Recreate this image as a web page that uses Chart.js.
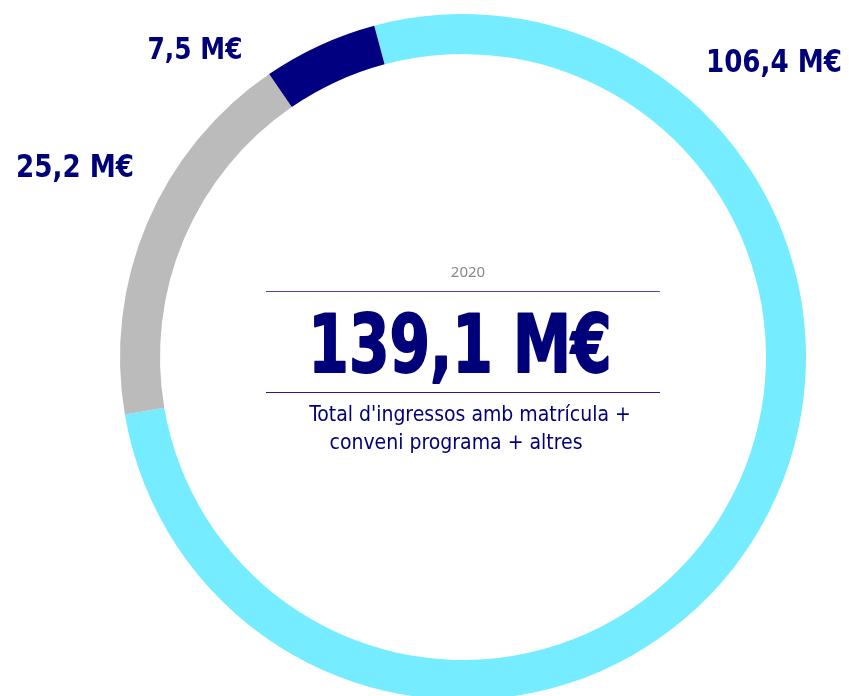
<!DOCTYPE html>
<html>
<head>
<meta charset="utf-8">
<script src="https://cdn.jsdelivr.net/npm/chart.js@4"></script>
<style>
  html, body { margin: 0; padding: 0; background: #fff; overflow: hidden; }
  #wrap { width: 849px; height: 720px; }
</style>
</head>
<body>
<div id="wrap"><canvas id="chart" width="849" height="720"></canvas></div>
<script>
// ingressos 2020, M€
var segmentValues = [106.4, 25.2, 7.5];
var segmentLabels = ['106,4 M€', '25,2 M€', '7,5 M€'];
var totalLabel = '139,1 M€';
var yearLabel = '2020';
var captionLines = ["Total d'ingressos amb matrícula +", 'conveni programa + altres'];

var colors = ['#75ecff', '#bbbbbb', '#000080'];
var navy = '#000078';
var condensed = "'Liberation Sans Narrow', 'DejaVu Sans Condensed', 'Roboto Condensed', sans-serif";
var regular = "'Noto Sans', 'Open Sans', sans-serif";

// where each value label sits (same order as segmentValues)
var labelPos = [[774, 60], [75, 165], [195, 47]];
var labelWidth = [136, 118, 95];

// shrink/grow the font so the text spans the given width
function fitFont(ctx, text, weight, family, width) {
  ctx.font = weight + ' 100px ' + family;
  var size = 100 * width / ctx.measureText(text).width;
  ctx.font = weight + ' ' + size.toFixed(1) + 'px ' + family;
}

// bold text, stretched vertically and optionally thickened
function heavyText(ctx, text, x, y, width, stretch, stroke) {
  ctx.save();
  ctx.translate(x, y);
  ctx.scale(1, stretch);
  fitFont(ctx, text, 'bold', condensed, width - stroke);
  if (stroke > 0) {
    ctx.lineWidth = stroke;
    ctx.lineJoin = 'round';
    ctx.strokeStyle = navy;
    ctx.strokeText(text, 0, 0);
  }
  ctx.fillText(text, 0, 0);
  ctx.restore();
}

var centerText = {
  id: 'centerText',
  afterDraw: function (chart) {
    var ctx = chart.ctx;
    var arc = chart.getDatasetMeta(0).data[0];
    var cx = arc.x;
    ctx.save();
    ctx.textAlign = 'center';
    ctx.textBaseline = 'alphabetic';

    ctx.fillStyle = '#888888';
    ctx.font = '15px ' + regular;
    ctx.fillText(yearLabel, cx + 5, 277);

    ctx.strokeStyle = '#4b4b9c';
    ctx.lineWidth = 1;
    ctx.beginPath();
    ctx.moveTo(266, 291.5); ctx.lineTo(660, 291.5);
    ctx.stroke();
    ctx.strokeStyle = '#202088';
    ctx.beginPath();
    ctx.moveTo(266, 392.5); ctx.lineTo(660, 392.5);
    ctx.stroke();

    ctx.fillStyle = navy;
    heavyText(ctx, totalLabel, 460, 372, 305, 1.24, 1.5);

    fitFont(ctx, captionLines[0], 'normal', condensed, 321);
    ctx.fillText(captionLines[0], 470, 421);
    ctx.fillText(captionLines[1], 456, 449);

    segmentLabels.forEach(function (t, i) {
      heavyText(ctx, t, labelPos[i][0], labelPos[i][1] + 12, labelWidth[i], 1.1, 0);
    });
    ctx.restore();
  }
};

var chart = new Chart('chart', {
  type: 'doughnut',
  data: {
    labels: segmentLabels,
    datasets: [{
      data: segmentValues,
      backgroundColor: colors,
      borderWidth: 0,
      hoverOffset: 0
    }]
  },
  options: {
    responsive: false,
    animation: false,
    rotation: -15,
    cutout: 303,
    layout: { padding: { left: 77, right: 0, top: 14, bottom: 20 } },
    plugins: {
      legend: { display: false },
      tooltip: { enabled: false }
    }
  },
  plugins: [centerText]
});
</script>
</body>
</html>
